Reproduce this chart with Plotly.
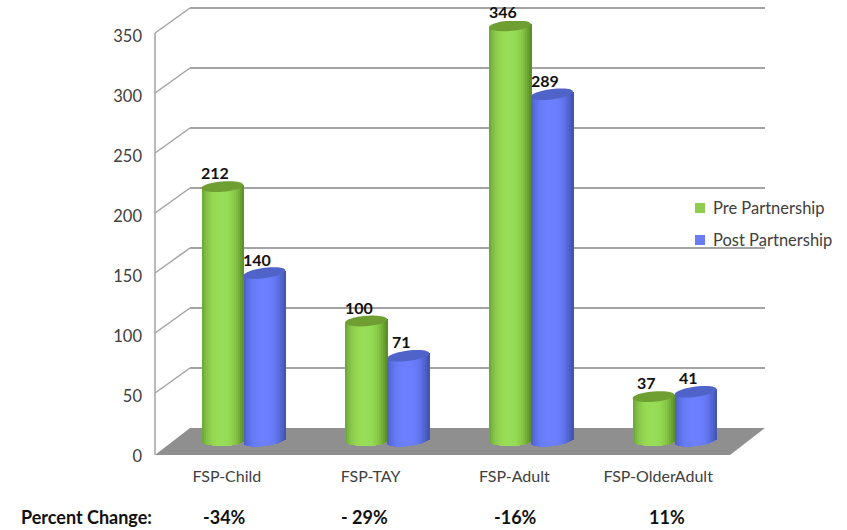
import math
import plotly.graph_objects as go

categories = ["FSP-Child", "FSP-TAY", "FSP-Adult", "FSP-OlderAdult"]
pre_partnership = [212, 100, 346, 37]
post_partnership = [140, 71, 289, 41]
percent_change = ["-34%", "- 29%", "-16%", "11%"]
y_ticks = [0, 50, 100, 150, 200, 250, 300, 350]

WIDTH, HEIGHT = 847, 530
FONT = "Lato"
GRID = "#a3a3a3"
PX_PER_UNIT = 1.2
CAT_PX = 143.75
CYL_PX = 42
STRIPS = 21
RX, RY = CYL_PX / 2, 5.2


def hx(px):
    return px / WIDTH


def vy(px):
    return 1 - px / HEIGHT


def mix(a, b, t):
    return "#" + "".join(f"{round(p + (q - p) * t):02x}" for p, q in zip(a, b))


# Series: name, values, side, edge shade, lit shade, cap colour, swatch, key y, cap tilt, foot tilt
SERIES = [
    ("Pre Partnership", pre_partnership, -0.5, (0x5e, 0x92, 0x28), (0x98, 0xdd, 0x56), "#6f9f33", "#8fce4c", 208, 1.6, 0.3),
    ("Post Partnership", post_partnership, 0.5, (0x42, 0x55, 0xb4), (0x6c, 0x80, 0xff), "#4f63c9", "#6a7df5", 240, 2.6, 2.6),
]

fig = go.Figure()
shapes = []
annotations = []

# Grey floor of the 3D box
floor = "M {} {} L {} {} L {} {} L {} {} Z".format(
    hx(155), vy(455), hx(730), vy(455), hx(765), vy(428), hx(190), vy(428)
)
shapes.append(dict(type="path", path=floor, xref="paper", yref="paper",
                   fillcolor="#8f8f8f", line=dict(width=0), layer="below"))

# Side wall: front upright plus diagonal rules joining it to the back wall
shapes.append(dict(type="line", xref="paper", yref="paper", layer="below",
                   x0=hx(155), y0=vy(455), x1=hx(155), y1=vy(33),
                   line=dict(color=GRID, width=1.5)))
for v in y_ticks[1:]:
    shapes.append(dict(type="line", xref="paper", yref="paper", layer="below",
                       x0=hx(155), y0=vy(453 - v * PX_PER_UNIT),
                       x1=hx(190), y1=vy(428 - v * PX_PER_UNIT),
                       line=dict(color=GRID, width=1.5)))

# Back wall gridlines live on the first subplot so they sit behind the cylinders
fig.add_trace(go.Scatter(x=[None], y=[None], xaxis="x", yaxis="y", showlegend=False))

for name, values, side, edge, lit, cap, swatch, key_y, top_tilt, foot_tilt in SERIES:
    strip_w = (CYL_PX / STRIPS) / CAT_PX
    for j in range(STRIPS):
        t = -1 + 2 * (j + 0.5) / STRIPS
        # Cylinder shading: dark at both edges, brightest just left of centre
        shade = max(0.0, 1 - abs((t + 0.08) / 1.02) ** 2.6)
        curve = RY * math.sqrt(max(0.0, 1 - t * t))
        xs = [i + side * CYL_PX / CAT_PX + t * CYL_PX / 2 / CAT_PX for i in range(len(values))]
        bases = [(-curve + foot_tilt * t) / PX_PER_UNIT] * len(values)
        tops = [v + top_tilt * t / PX_PER_UNIT for v in values]
        fig.add_trace(go.Bar(
            x=xs, y=[top - b for top, b in zip(tops, bases)], base=bases,
            width=strip_w * 1.15, marker=dict(color=mix(edge, lit, shade), line=dict(width=0)),
            xaxis="x2", yaxis="y2", showlegend=False, hoverinfo="skip", name=name,
        ))
    # Elliptical top cap of each cylinder, tilted slightly with the perspective
    for i, v in enumerate(values):
        cx = i + side * CYL_PX / CAT_PX
        pts = []
        for k in range(48):
            a = 2 * math.pi * k / 48
            ex, ey = RX * math.cos(a), RY * math.sin(a)
            pts.append((cx + ex / CAT_PX, v + (ey + top_tilt * ex / RX) / PX_PER_UNIT))
        path = "M " + " L ".join(f"{a:.5f} {b:.3f}" for a, b in pts) + " Z"
        shapes.append(dict(type="path", path=path, xref="x2", yref="y2",
                           fillcolor=cap, line=dict(width=0), layer="above"))
        annotations.append(dict(
            x=cx, y=v, xref="x2", yref="y2", text=str(v),
            showarrow=False, xshift=-7, yshift=14, yanchor="middle", xanchor="center",
            font=dict(family=FONT, size=16, color="#111111", weight="bold"),
        ))
    # Series key at the right of the chart
    shapes.append(dict(type="rect", xref="paper", yref="paper", layer="above",
                       x0=hx(695), x1=hx(705), y0=vy(key_y - 5), y1=vy(key_y + 5),
                       fillcolor=swatch, line=dict(width=0)))
    annotations.append(dict(x=hx(711), y=vy(key_y), xref="paper", yref="paper", text=name,
                            showarrow=False, xanchor="left", yanchor="middle",
                            font=dict(family=FONT, size=16.5, color="#404040")))

annotations.append(dict(x=hx(19), y=vy(517), xref="paper", yref="paper", text="Percent Change:",
                        showarrow=False, xanchor="left", yanchor="middle",
                        font=dict(family=FONT, size=18, color="#111111", weight="bold")))
for i, p in enumerate(percent_change):
    annotations.append(dict(x=i, y=vy(517), xref="x3", yref="paper", text=p, showarrow=False,
                            xshift=[-2, -6, 1, 9][i], xanchor="center", yanchor="middle",
                            font=dict(family=FONT, size=18, color="#111111", weight="bold")))

hidden = dict(showgrid=False, zeroline=False, showticklabels=False, ticks="", showline=False)

fig.update_layout(
    width=WIDTH, height=HEIGHT, autosize=False,
    margin=dict(l=0, r=0, t=0, b=0, autoexpand=False),
    paper_bgcolor="white", plot_bgcolor="rgba(0,0,0,0)",
    barmode="overlay", bargap=0, showlegend=False,
    shapes=shapes, annotations=annotations,
    font=dict(family=FONT, color="#404040"),
    # Back wall; the range runs a little past 350 so the top rule is kept
    xaxis=dict(domain=[hx(190), hx(765)], range=[-0.5, 3.5], anchor="y", **hidden),
    yaxis=dict(domain=[vy(428), vy(2)], range=[0, 355], anchor="x",
               tickvals=y_ticks[1:], showticklabels=False, ticks="",
               showgrid=True, gridcolor=GRID, gridwidth=1.5, zeroline=False, showline=False),
    # Plane the cylinders stand on
    xaxis2=dict(domain=[hx(171.5), hx(746.5)], range=[-0.5, 3.5], anchor="y2", **hidden),
    yaxis2=dict(domain=[vy(453), vy(21)], range=[-10, 350], anchor="x2", **hidden),
    # Front plane with the visible axis labels
    xaxis3=dict(domain=[hx(155), hx(730)], range=[-0.5, 3.5], anchor="y3",
                tickvals=list(range(len(categories))), ticktext=categories,
                showgrid=False, zeroline=False, showline=False, ticks="",
                ticklabelstandoff=9, tickfont=dict(family=FONT, size=16, color="#404040")),
    yaxis3=dict(domain=[vy(456), vy(36)], range=[0, 350], anchor="x3",
                tickvals=y_ticks, showgrid=False, zeroline=False, showline=False, ticks="",
                ticklabelstandoff=12, tickfont=dict(family=FONT, size=16.5, color="#404040")),
)

# Empty trace on the front axes so that subplot is created
fig.add_trace(go.Scatter(x=[None], y=[None], xaxis="x3", yaxis="y3", showlegend=False))

fig.write_html("out.html")
